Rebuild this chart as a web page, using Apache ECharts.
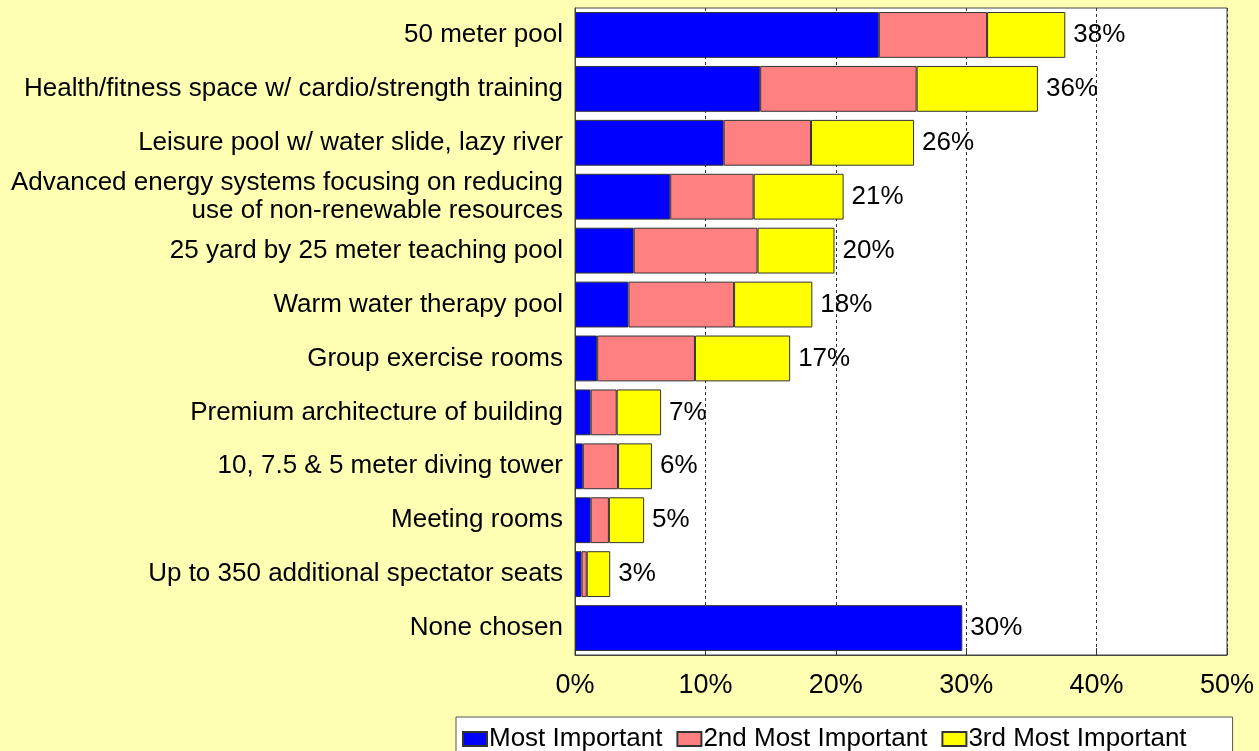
<!DOCTYPE html>
<html>
<head>
<meta charset="UTF-8">
<title>Facility priorities</title>
<script src="https://cdn.jsdelivr.net/npm/echarts@6/dist/echarts.min.js"></script>
<style>
  html, body { margin: 0; padding: 0; height: 100%; background: #ffffb3; }
  #main { width: 1259px; height: 751px; }
</style>
</head>
<body>
<div id="main"></div>
<script>
var categories = [
  '50 meter pool',
  'Health/fitness space w/ cardio/strength training',
  'Leisure pool w/ water slide, lazy river',
  'Advanced energy systems focusing on reducing\nuse of non-renewable resources',
  '25 yard by 25 meter teaching pool',
  'Warm water therapy pool',
  'Group exercise rooms',
  'Premium architecture of building',
  '10, 7.5 & 5 meter diving tower',
  'Meeting rooms',
  'Up to 350 additional spectator seats',
  'None chosen'
];
var mostImportant   = [23.3, 14.2, 11.4, 7.3, 4.5, 4.1, 1.7, 1.2, 0.6, 1.2, 0.5, 29.7];
var secondImportant = [8.3, 12.0, 6.7, 6.4, 9.5, 8.1, 7.5, 2.0, 2.7, 1.4, 0.4, 0];
var thirdImportant  = [6.0, 9.3, 7.9, 6.9, 5.9, 6.0, 7.3, 3.4, 2.6, 2.7, 1.8, 0];
var totalLabels = ['38%', '36%', '26%', '21%', '20%', '18%', '17%', '7%', '6%', '5%', '3%', '30%'];

var chart = echarts.init(document.getElementById('main'));

// label goes on the last non-empty segment of each row
function buildData(values, isLast) {
  return values.map(function (v, i) {
    if (!v) return '-';
    var item = { value: v };
    if (isLast(i)) {
      item.label = {
        show: true, position: 'right', distance: 8,
        formatter: totalLabels[i],
        color: '#000', fontSize: 26, fontFamily: 'Liberation Sans'
      };
    }
    return item;
  });
}

var barStyle = function (c) {
  return { color: c, borderColor: '#333', borderWidth: 1 };
};

var option = {
  backgroundColor: '#ffffb3',
  animation: false,
  grid: {
    left: 575, right: 32, top: 8, bottom: 96,
    show: true, backgroundColor: '#fff', borderColor: '#444', borderWidth: 1
  },
  xAxis: {
    type: 'value', min: 0, max: 50, interval: 10,
    axisLine: { show: true, lineStyle: { color: '#444' } },
    axisTick: { show: true, inside: true, length: 7, lineStyle: { color: '#333' } },
    splitLine: { show: true, lineStyle: { color: '#333', type: [3, 3], width: 1 } },
    axisLabel: {
      formatter: '{value}%', color: '#000', fontSize: 27,
      fontFamily: 'Liberation Sans', margin: 17
    }
  },
  yAxis: {
    type: 'category', inverse: true, data: categories,
    axisLine: { show: true, lineStyle: { color: '#444' } },
    axisTick: { show: false },
    axisLabel: {
      color: '#000', fontSize: 26, fontFamily: 'Liberation Sans',
      margin: 12, lineHeight: 28, align: 'right'
    }
  },
  legend: {
    data: ['Most Important', '2nd Most Important', '3rd Most Important'],
    left: 456, top: 717,
    backgroundColor: '#fff', borderColor: '#555', borderWidth: 1,
    padding: [9, 46, 10, 6],
    icon: 'rect', itemWidth: 24, itemHeight: 14, itemGap: 14,
    textStyle: { color: '#000', fontSize: 26, fontFamily: 'Liberation Sans', padding: [0, 0, 0, -3] }
  },
  series: [
    {
      name: 'Most Important', type: 'bar', stack: 'all', barCategoryGap: '15%',
      itemStyle: barStyle('#0000ff'),
      data: buildData(mostImportant, function (i) { return !secondImportant[i] && !thirdImportant[i]; })
    },
    {
      name: '2nd Most Important', type: 'bar', stack: 'all',
      itemStyle: barStyle('#ff8080'),
      data: buildData(secondImportant, function () { return false; })
    },
    {
      name: '3rd Most Important', type: 'bar', stack: 'all',
      itemStyle: barStyle('#ffff00'),
      data: buildData(thirdImportant, function () { return true; })
    }
  ]
};

chart.setOption(option);
</script>
</body>
</html>
